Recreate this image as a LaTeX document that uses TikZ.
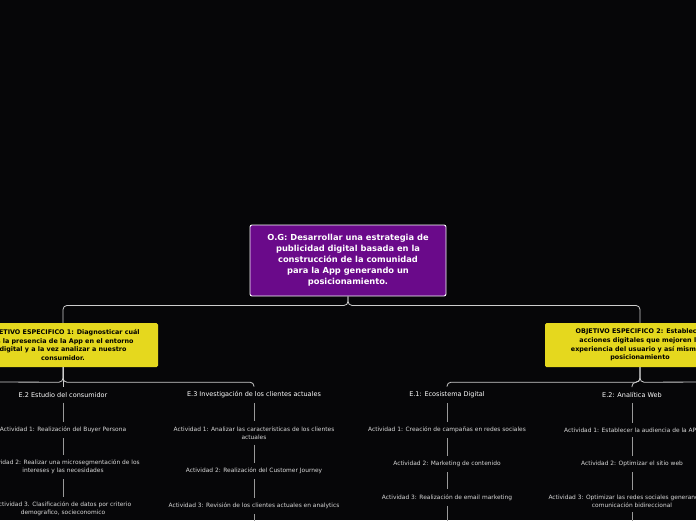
\documentclass[tikz,border=0pt]{standalone}
\usepackage{fontspec}
\setmainfont{DejaVu Sans}
\usetikzlibrary{positioning}
\definecolor{bgdark}{HTML}{060608}
\definecolor{ogpurple}{HTML}{6A0A8A}
\definecolor{objyellow}{HTML}{E5D81E}
\begin{document}
\begin{tikzpicture}[x=1pt,y=-1pt,
  every node/.style={align=center},
  mainbox/.style={draw=white,fill=ogpurple,text=white,rounded corners=2pt,line width=0.9pt,
    font=\fontsize{8.3}{10.9}\selectfont\bfseries,minimum width=196pt,minimum height=71pt},
  objbox/.style={fill=objyellow,text=black,rounded corners=1.5pt,
    font=\fontsize{6.4}{8.6}\selectfont\bfseries,minimum width=190pt,minimum height=44pt},
  head/.style={text=white,font=\fontsize{6.5}{7}\selectfont,inner sep=5pt},
  act/.style={text=white!85!black,font=\fontsize{5.9}{8}\selectfont,inner sep=5pt},
  tree/.style={draw=white!80!black,line width=0.8pt,rounded corners=4pt},
  link/.style={draw=white!60!black,line width=0.8pt}]
  \fill[bgdark] (0,0) rectangle (696,520);
  \clip (0,0) rectangle (696,520);
  % root
  \node[mainbox] (og) at (348,260.5) {O.G: Desarrollar una estrategia de\\publicidad digital basada en la\\construcción de la comunidad\\para la App generando un\\posicionamiento.};
  % objectives
  \node[objbox] (o1) at (63,345) {OBJETIVO ESPECIFICO 1: Diagnosticar cuál\\es la presencia de la App en el entorno\\digital y a la vez analizar a nuestro\\consumidor.};
  \node[objbox] (o2) at (640,345) {OBJETIVO ESPECIFICO 2: Establecer\\acciones digitales que mejoren la\\experiencia del usuario y así mismo el\\posicionamiento};
  \draw[tree] (og.south) -- ++(0,9) -| (o1.north);
  \draw[tree] (og.south) -- ++(0,9) -| (o2.north);
  % strands
  \node[head] (e2a) at (63,395) {E.2 Estudio del consumidor};
  \node[head] (e3a) at (254,395) {E.3 Investigación de los clientes actuales};
  \node[head] (e1b) at (447,395) {E.1: Ecosistema Digital};
  \node[head] (e2b) at (632,395) {E.2: Analítica Web};
  \coordinate (leftend) at (-20,382);
  \coordinate (rightend) at (720,382);
  \draw[tree] (o1.south) -- ++(0,15) -| (e3a.north);
  \draw[tree] (o1.south) -- ++(0,15) -- (leftend);
  \draw[tree] (o1.south) -- (e2a.north);
  \draw[tree] (o2.south) -- ++(0,15) -| (e1b.north);
  \draw[tree] (o2.south) -- ++(0,15) -| (e2b.north);
  \draw[tree] (o2.south) -- ++(0,15) -- (rightend);
  % activities
  \node[act] (a21) at (63,430) {Actividad 1: Realización del Buyer Persona};
  \node[act] (a22) at (63,467) {Actividad 2: Realizar una microsegmentación de los\\intereses y las necesidades};
  \node[act] (a23) at (63,509) {Actividad 3. Clasificación de datos por criterio\\demografico, socieconomico};
  \node[act] (a31) at (254,433) {Actividad 1: Analizar las características de los clientes\\actuales};
  \node[act] (a32) at (254,471) {Actividad 2: Realización del Customer Journey};
  \node[act] (a33) at (254,506) {Actividad 3: Revisión de los clientes actuales en analytics};
  \node[act] (b11) at (447,430) {Actividad 1: Creación de campañas en redes sociales};
  \node[act] (b12) at (447,464) {Actividad 2: Marketing de contenido};
  \node[act] (b13) at (447,497.5) {Actividad 3: Realización de email marketing};
  \node[act] (b21) at (632,430) {Actividad 1: Establecer la audiencia de la APP};
  \node[act] (b22) at (632,464) {Actividad 2: Optimizar el sitio web};
  \node[act] (b23) at (632,501) {Actividad 3: Optimizar las redes sociales generando una\\comunicación bidireccional};
  \coordinate (a3end) at (254,530);
  \coordinate (b1end) at (447,530);
  \coordinate (b2end) at (632,530);
  \draw[link] (e2a) -- (a21) (a21) -- (a22) (a22) -- (a23);
  \draw[link] (e3a) -- (a31) (a31) -- (a32) (a32) -- (a33) (a33) -- (a3end);
  \draw[link] (e1b) -- (b11) (b11) -- (b12) (b12) -- (b13) (b13) -- (b1end);
  \draw[link] (e2b) -- (b21) (b21) -- (b22) (b22) -- (b23) (b23) -- (b2end);
\end{tikzpicture}
\end{document}
